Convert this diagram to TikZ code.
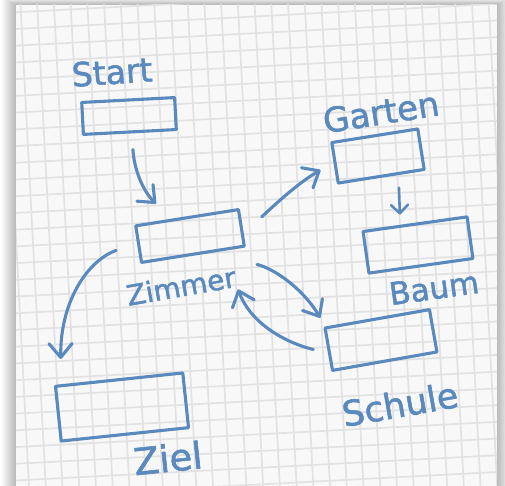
\documentclass[tikz,border=0pt]{standalone}
\usepackage{fontspec}
\setmainfont[FakeBold=1.6,BoldFont={DejaVu Sans}]{DejaVu Sans}
\usetikzlibrary{arrows.meta,calc}
\definecolor{ink}{RGB}{90,137,190}
\definecolor{paper}{RGB}{248,248,248}
\definecolor{gridc}{RGB}{226,226,226}
\begin{document}
\begin{tikzpicture}[x=1pt,y=-1pt,
  box/.style={draw=ink,line width=3.1pt,line join=round,inner sep=0pt},
  lbl/.style={text=ink,inner sep=0pt,font=\fontsize{#1}{#1}\selectfont\bfseries},
  arr/.style={draw=ink,line width=3.1pt,line cap=round,
    -{Straight Barb[angle=80:18pt,line width=3.1pt,round]}},
  sarr/.style={draw=ink,line width=2.6pt,line cap=round,
    -{Straight Barb[angle=90:12pt,line width=2.6pt,round]}}]
\useasboundingbox (0,0) rectangle (505,486);
\fill[white] (0,0) rectangle (505,486);
% shadow
\foreach \i in {1,...,14}{
  \fill[black,opacity=0.02] (16-\i,5-0.5*\i) rectangle (497+\i,500);
}
\fill[paper] (16,5) rectangle (497,500);
% grid
\begin{scope}
\clip (16,5) rectangle (497,500);
\begin{scope}[rotate around={3:(256,245)}]
\foreach \k in {-4,...,36}{
  \draw[gridc,line width=1.7pt] (16.7*\k,-60) -- (16.7*\k,560);
  \draw[gridc,line width=1.7pt] (-60,16.7*\k) -- (560,16.7*\k);
}
\end{scope}
\end{scope}
% boxes
\node[box,minimum width=93pt,minimum height=32pt,rotate=3] (st) at (129,116) {};
\node[box,minimum width=104pt,minimum height=37pt,rotate=9] (zi) at (190,236) {};
\node[box,minimum width=87pt,minimum height=41pt,rotate=9] (ga) at (378,156) {};
\node[box,minimum width=105pt,minimum height=42pt,rotate=8] (ba) at (418,245) {};
\node[box,minimum width=106pt,minimum height=43pt,rotate=10] (sc) at (381,340) {};
\node[box,minimum width=128pt,minimum height=55pt,rotate=6] (ze) at (122,407) {};
% labels
\node[lbl=33,rotate=4] (tst) at (112,72) {Start};
\node[lbl=34,rotate=9] (tga) at (381,112) {Garten};
\node[lbl=28,rotate=10] (tzi) at (181,286) {Zimmer};
\node[lbl=31,rotate=8] (tba) at (434,288) {Baum};
\node[lbl=35,rotate=10] (tsc) at (400,404) {Schule};
\node[lbl=37,rotate=6] (tze) at (168,458) {Ziel};
% arrows
\draw[arr] ($(st.south)+(3,16)$) .. controls (134,168) and (142,190) .. ($(zi.north west)+(22,-21)$);
\draw[arr] ($(zi.north east)+(22,9)$) .. controls (282,198) and (300,182) .. ($(ga.west)+(-13,7)$);
\draw[sarr] ($(ga.south east)+(-27,17)$) -- ($(ba.north)+(-15,-8)$);
\draw[arr] ($(zi.south east)+(11,17)$) .. controls (278,270) and (305,292) .. ($(sc.north west)+(-3,-9)$);
\draw[arr] ($(sc.west)+(-14,0)$) .. controls (283,342) and (250,322) .. ($(zi.south east)+(-8,42)$);
\draw[arr] ($(zi.west)+(-21,6)$) .. controls (85,262) and (60,305) .. ($(ze.north west)+(7,-26)$);
\end{tikzpicture}
\end{document}
